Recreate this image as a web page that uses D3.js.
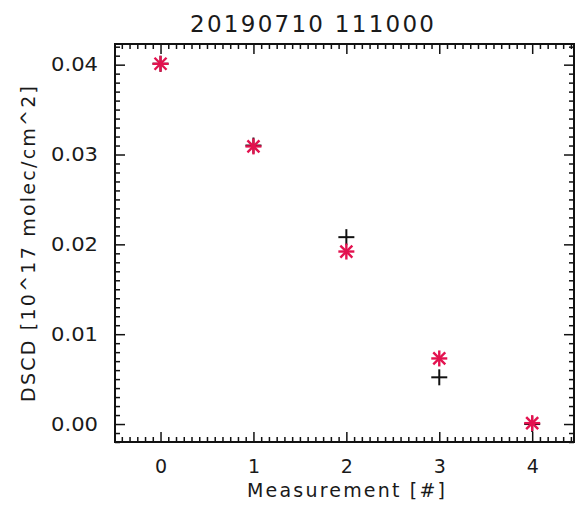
<!DOCTYPE html>
<html><head><meta charset="utf-8">
<script src="https://cdn.jsdelivr.net/npm/d3@7"></script>
<style>body{margin:0;background:#fff}svg{display:block}text{font-family:"DejaVu Sans",sans-serif;fill:#1a1a1a}</style>
</head><body><svg id="c" width="577" height="507"></svg>
<script>
const title = "20190710 111000";
const xLabel = "Measurement [#]";
const yLabel = "DSCD [10^17 molec/cm^2]";
const measurement = [0, 1, 2, 3, 4];
const dscdStar = [0.0401, 0.0309, 0.0192, 0.0073, 0.0001];
const dscdPlus = [0.0401, 0.0310, 0.0208, 0.0052, 0.0000];
const xTicks = [0, 1, 2, 3, 4];
const yTicks = [0.00, 0.01, 0.02, 0.03, 0.04];

const svg = d3.select("#c");
const L = 115, R = 574, T = 44, B = 442;
const x = d3.scaleLinear().domain([-0.49, 4.45]).range([L, R]);
const y = d3.scaleLinear().domain([-0.002, 0.0423]).range([B, T]);

const xMinor = d3.range(-6, 54).map(i => i / 12).filter(v => v >= -0.49 && v <= 4.45 && Math.abs(v - Math.round(v)) > 1e-6);
const yMinor = d3.range(-2, 43).map(i => i / 1000).filter(v => Math.abs(v * 100 - Math.round(v * 100)) > 1e-6);

const g = svg.append("g");
const style = a => { a.select(".domain").remove(); a.selectAll("line").attr("stroke", "#111").attr("stroke-width", 1.5); };
// bottom
g.append("g").attr("transform", `translate(0,${B})`)
  .call(d3.axisBottom(x).tickValues(xTicks).tickSize(-10).tickFormat(d3.format("d")).tickPadding(18))
  .call(style).call(a => a.selectAll("text").attr("font-size", 19).attr("fill", "#1a1a1a"));
g.append("g").attr("transform", `translate(0,${B})`)
  .call(d3.axisBottom(x).tickValues(xMinor).tickSize(-5).tickFormat("")).call(style);
// top
g.append("g").attr("transform", `translate(0,${T})`)
  .call(d3.axisTop(x).tickValues(xTicks).tickSize(-10).tickFormat("")).call(style);
g.append("g").attr("transform", `translate(0,${T})`)
  .call(d3.axisTop(x).tickValues(xMinor).tickSize(-5).tickFormat("")).call(style);
// left
g.append("g").attr("transform", `translate(${L},0)`)
  .call(d3.axisLeft(y).tickValues(yTicks).tickSize(-10).tickFormat(d3.format(".2f")).tickPadding(17))
  .call(style).call(a => a.selectAll("text").attr("font-size", 19).attr("fill", "#1a1a1a")
    .attr("textLength", 47).attr("lengthAdjust", "spacingAndGlyphs"));
g.append("g").attr("transform", `translate(${L},0)`)
  .call(d3.axisLeft(y).tickValues(yMinor).tickSize(-5).tickFormat("")).call(style);
// right
g.append("g").attr("transform", `translate(${R},0)`)
  .call(d3.axisRight(y).tickValues(yTicks).tickSize(-10).tickFormat("")).call(style);
g.append("g").attr("transform", `translate(${R},0)`)
  .call(d3.axisRight(y).tickValues(yMinor).tickSize(-5).tickFormat("")).call(style);

svg.append("rect").attr("x", L).attr("y", T).attr("width", R - L).attr("height", B - T)
  .attr("fill", "none").attr("stroke", "#111").attr("stroke-width", 2);

// plus markers
const ps = 8;
const plus = svg.append("g").attr("stroke", "#111").attr("stroke-width", 2);
measurement.forEach((m, i) => {
  const cx = x(m), cy = y(dscdPlus[i]);
  plus.append("line").attr("x1", cx - ps).attr("x2", cx + ps).attr("y1", cy).attr("y2", cy);
  plus.append("line").attr("x1", cx).attr("x2", cx).attr("y1", cy - ps).attr("y2", cy + ps);
});
// asterisk markers
const ss = 8, sd = 6;
const star = svg.append("g").attr("stroke", "#e3124f").attr("stroke-width", 2.4);
measurement.forEach((m, i) => {
  const cx = x(m), cy = y(dscdStar[i]);
  star.append("line").attr("x1", cx - ss).attr("x2", cx + ss).attr("y1", cy).attr("y2", cy);
  star.append("line").attr("x1", cx).attr("x2", cx).attr("y1", cy - ss).attr("y2", cy + ss);
  star.append("line").attr("x1", cx - sd).attr("x2", cx + sd).attr("y1", cy - sd).attr("y2", cy + sd);
  star.append("line").attr("x1", cx - sd).attr("x2", cx + sd).attr("y1", cy + sd).attr("y2", cy - sd);
});

svg.append("text").attr("x", 312).attr("y", 32).attr("text-anchor", "middle")
  .attr("font-size", 23).attr("textLength", 244).attr("lengthAdjust", "spacing").text(title);
svg.append("text").attr("x", 346).attr("y", 497).attr("text-anchor", "middle")
  .attr("font-size", 19).attr("textLength", 198).attr("lengthAdjust", "spacing").text(xLabel);
svg.append("text").attr("transform", "translate(35,244) rotate(-90)").attr("text-anchor", "middle")
  .attr("font-size", 19).attr("textLength", 316).attr("lengthAdjust", "spacing").text(yLabel);
</script></body></html>
